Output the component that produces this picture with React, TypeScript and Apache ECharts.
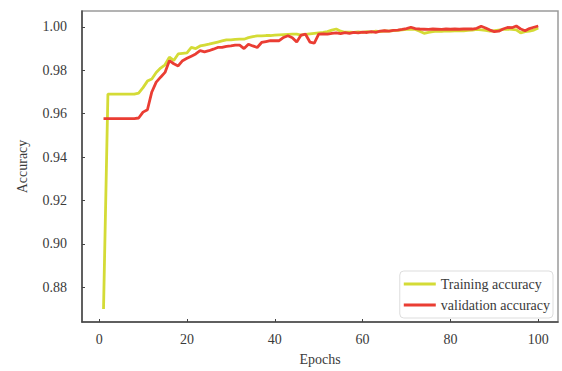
import React, { useEffect, useRef } from "react";
import * as echarts from "echarts";

const epochs: number[] = Array.from({ length: 100 }, (_, i) => i + 1);

const trainingAccuracy: number[] = [
  0.870, 0.969, 0.969, 0.969, 0.969, 0.969, 0.969, 0.969, 0.9695, 0.972,
  0.975, 0.976, 0.979, 0.981, 0.9825, 0.986, 0.9845, 0.9875, 0.9878, 0.988,
  0.9905, 0.990, 0.9912, 0.9916, 0.992, 0.9925, 0.993, 0.9935, 0.994, 0.994,
  0.9942, 0.9943, 0.9943, 0.995, 0.9955, 0.9958, 0.9958, 0.996, 0.996, 0.9962,
  0.9963, 0.9964, 0.9965, 0.9966, 0.9966, 0.9962, 0.9965, 0.9968, 0.997, 0.9972,
  0.9974, 0.9978, 0.9985, 0.999, 0.998, 0.9975, 0.9976, 0.9974, 0.9977, 0.9975,
  0.9978, 0.9976, 0.998, 0.9978, 0.9981, 0.998, 0.9983, 0.9984, 0.9986, 0.9988,
  0.999, 0.9988, 0.998, 0.997, 0.9975, 0.9978, 0.998, 0.9979, 0.9982, 0.998,
  0.9981, 0.9983, 0.9982, 0.9984, 0.9985, 0.9988, 0.9986, 0.9984, 0.998, 0.9982,
  0.9985, 0.9988, 0.999, 0.9988, 0.9986, 0.9972, 0.9978, 0.998, 0.9985, 0.9995,
];

const validationAccuracy: number[] = [
  0.9577, 0.9577, 0.9577, 0.9577, 0.9577, 0.9577, 0.9577, 0.9577, 0.958, 0.9607,
  0.9618, 0.970, 0.9745, 0.9768, 0.979, 0.9844, 0.983, 0.982, 0.9844, 0.9855,
  0.9865, 0.9875, 0.989, 0.9885, 0.989, 0.9897, 0.9905, 0.9905, 0.991, 0.9912,
  0.9916, 0.9916, 0.990, 0.992, 0.9912, 0.9905, 0.9928, 0.9932, 0.9936, 0.9936,
  0.9936, 0.9951, 0.9959, 0.995, 0.993, 0.9962, 0.9966, 0.993, 0.9925, 0.9966,
  0.9968, 0.9966, 0.997, 0.9972, 0.9969, 0.9973, 0.997, 0.9975, 0.9972, 0.9976,
  0.9974, 0.9978, 0.9975, 0.998, 0.9982, 0.998, 0.9984, 0.9985, 0.9988, 0.9992,
  0.9998, 0.9992, 0.999, 0.9989, 0.9988, 0.999, 0.9989, 0.9988, 0.999, 0.9989,
  0.999, 0.9989, 0.999, 0.9991, 0.999, 0.9993, 1.0003, 0.9995, 0.9985, 0.9978,
  0.998, 0.999, 0.9997, 0.9996, 1.0004, 0.999, 0.9982, 0.9992, 0.9998, 1.0004,
];

const xTicks: number[] = [0, 20, 40, 60, 80, 100];
const yTicks: number[] = [0.88, 0.9, 0.92, 0.94, 0.96, 0.98, 1.0];

const seriesNames: string[] = ["Training accuracy", "validation accuracy"];
const seriesColors: string[] = ["#d4db36", "#ea3d33"];

export default function App() {
  const ref = useRef<HTMLDivElement>(null);
  useEffect(() => {
    if (!ref.current) return;
    const chart = echarts.init(ref.current, null, { renderer: "svg" });
    const font = "'Liberation Serif', 'DejaVu Serif', serif";
    chart.setOption({
      animation: false,
      backgroundColor: "#ffffff",
      textStyle: { fontFamily: font },
      grid: {
        left: 82,
        right: 4,
        top: 11,
        bottom: 48,
        show: true,
        borderColor: "#9a9a9a",
        borderWidth: 1.5,
      },
      legend: {
        data: seriesNames,
        orient: "vertical",
        right: 9,
        bottom: 53,
        icon: "rect",
        itemWidth: 32,
        itemHeight: 3,
        itemGap: 7,
        padding: [6, 3, 6, 4],
        borderColor: "#dddddd",
        borderWidth: 1,
        borderRadius: 4,
        backgroundColor: "#ffffff",
        textStyle: { fontFamily: font, fontSize: 14, color: "#3a3a3a", lineHeight: 14 },
      },
      xAxis: {
        type: "value",
        min: -3.9,
        max: 104.5,
        name: "Epochs",
        nameLocation: "middle",
        nameGap: 30,
        nameTextStyle: { fontFamily: font, fontSize: 14, color: "#3a3a3a" },
        splitLine: { show: false },
        axisLine: { show: true, onZero: false, lineStyle: { color: "#444", width: 1.5 } },
        axisTick: {
          show: true,
          inside: true,
          length: 3,
          customValues: xTicks,
          lineStyle: { color: "#444" },
        },
        axisLabel: {
          customValues: xTicks,
          fontFamily: font,
          fontSize: 14,
          color: "#3a3a3a",
          margin: 10,
        },
      },
      yAxis: {
        type: "value",
        min: 0.864,
        max: 1.0073,
        name: "Accuracy",
        nameLocation: "middle",
        nameRotate: 90,
        nameGap: 53,
        nameTextStyle: { fontFamily: font, fontSize: 14, color: "#3a3a3a" },
        splitLine: { show: false },
        axisLine: { show: true, onZero: false, lineStyle: { color: "#444", width: 1.5 } },
        axisTick: {
          show: true,
          inside: true,
          length: 3,
          customValues: yTicks,
          lineStyle: { color: "#444" },
        },
        axisLabel: {
          customValues: yTicks,
          fontFamily: font,
          fontSize: 14,
          color: "#3a3a3a",
          margin: 15,
          formatter: (v: number) => v.toFixed(2),
        },
      },
      series: [
        {
          name: seriesNames[0],
          type: "line",
          data: epochs.map((e, i) => [e, trainingAccuracy[i]]),
          showSymbol: false,
          lineStyle: { color: seriesColors[0], width: 2.8 },
          itemStyle: { color: seriesColors[0] },
        },
        {
          name: seriesNames[1],
          type: "line",
          data: epochs.map((e, i) => [e, validationAccuracy[i]]),
          showSymbol: false,
          lineStyle: { color: seriesColors[1], width: 2.8 },
          itemStyle: { color: seriesColors[1] },
        },
      ],
    });
    return () => chart.dispose();
  }, []);
  return <div ref={ref} style={{ width: 562, height: 371, position: "absolute", left: 0, top: 0 }} />;
}
